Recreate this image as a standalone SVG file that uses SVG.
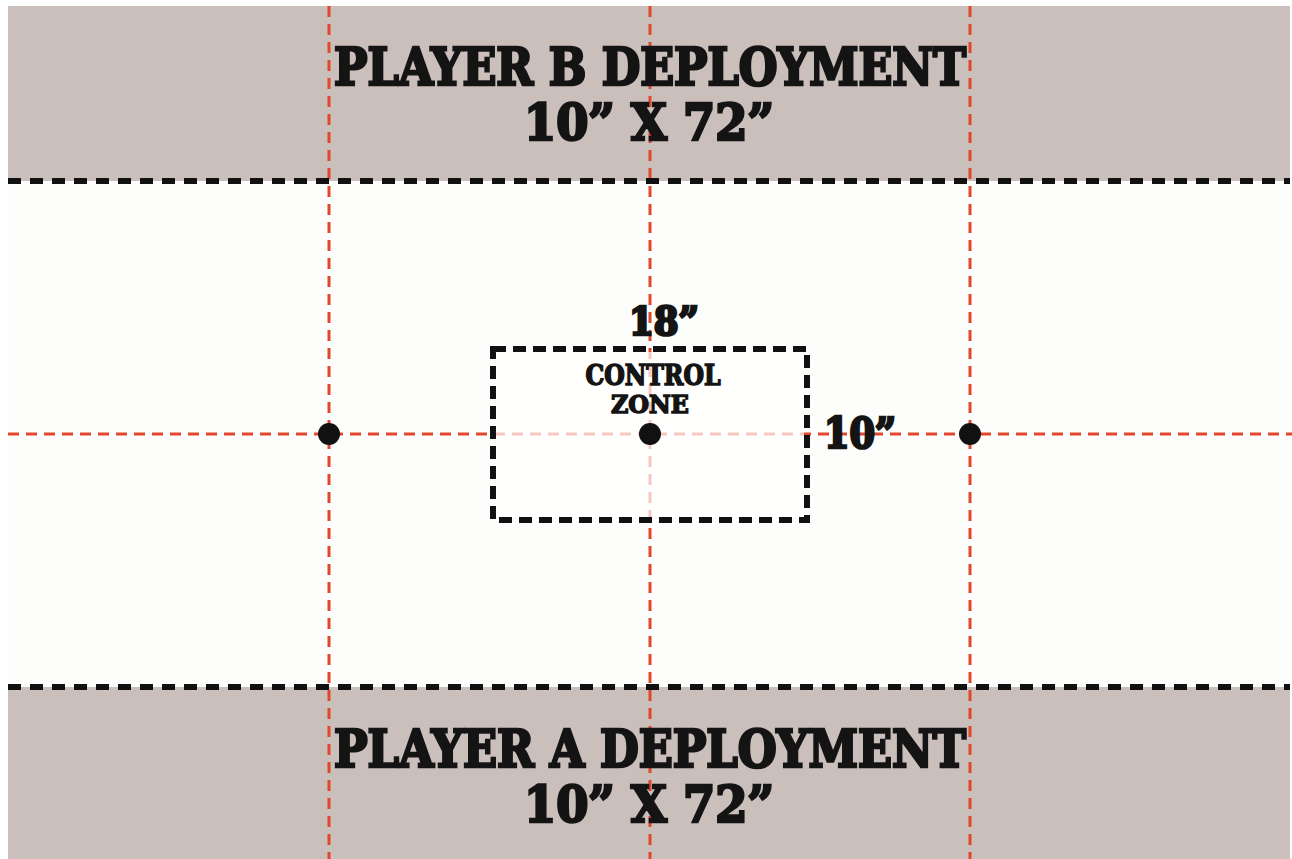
<svg xmlns="http://www.w3.org/2000/svg" width="1292" height="859" viewBox="0 0 1292 859">
<style>
.band{fill:#cbbfbc}
.field{fill:#fdfdfb}
.red{stroke:#e1472b;stroke-width:3;stroke-dasharray:11 7;fill:none}
.edge{stroke:#111;stroke-width:6;stroke-dasharray:13 9;fill:none}
.zone{stroke:#111;stroke-width:6;stroke-dasharray:13 7;fill:none}
.dot{fill:#111}
.t{font-family:"DejaVu Serif Condensed","DejaVu Serif","Liberation Serif",serif;font-weight:900;fill:#141414;stroke:#141414;stroke-linejoin:miter;text-anchor:middle}
.big{stroke-width:2.6}
.small{stroke-width:1.4}
</style>
<rect x="0" y="0" width="1292" height="859" fill="#ffffff"/>
<g id="board">
<rect class="field" x="8" y="181" width="1282" height="506"/>
<rect id="zone-b" class="band" x="8" y="6" width="1282" height="175"/>
<rect id="zone-a" class="band" x="8" y="687" width="1282" height="172"/>
</g>
<g id="connectors">
<line class="red" x1="329" y1="6" x2="329" y2="859"/>
<line class="red" x1="650" y1="6" x2="650" y2="859"/>
<line class="red" x1="970" y1="6" x2="970" y2="859"/>
<line class="red" x1="8" y1="434" x2="1292" y2="434"/>
<rect x="496" y="352" width="308" height="165" fill="#ffffff" opacity="0.7"/>
<line class="edge" x1="8" y1="181" x2="1290" y2="181"/>
<line class="edge" x1="8" y1="687" x2="1290" y2="687"/>
</g>
<g id="control-zone">
<rect class="zone" x="493" y="349" width="314" height="171"/>
<text class="t big" x="664" y="335" font-size="40" textLength="70" lengthAdjust="spacingAndGlyphs">18”</text>
<text class="t small" x="653" y="385" font-size="27" textLength="135" lengthAdjust="spacingAndGlyphs">CONTROL</text>
<text class="t small" x="650" y="413" font-size="25" textLength="78" lengthAdjust="spacingAndGlyphs">ZONE</text>
<text class="t big" x="860" y="448" font-size="42" textLength="72" lengthAdjust="spacingAndGlyphs">10”</text>
</g>
<g id="objectives">
<circle class="dot" cx="329" cy="434" r="11"/>
<circle class="dot" cx="650" cy="434" r="11"/>
<circle class="dot" cx="970" cy="434" r="11"/>
</g>
<g id="player-b">
<text class="t big" x="650" y="85" font-size="52" textLength="632" lengthAdjust="spacingAndGlyphs">PLAYER B DEPLOYMENT</text>
<text class="t big" x="649" y="140" font-size="51" textLength="250" lengthAdjust="spacingAndGlyphs">10” X 72”</text>
</g>
<g id="player-a">
<text class="t big" x="650" y="767" font-size="52" textLength="632" lengthAdjust="spacingAndGlyphs">PLAYER A DEPLOYMENT</text>
<text class="t big" x="649" y="822" font-size="51" textLength="250" lengthAdjust="spacingAndGlyphs">10” X 72”</text>
</g>
</svg>
